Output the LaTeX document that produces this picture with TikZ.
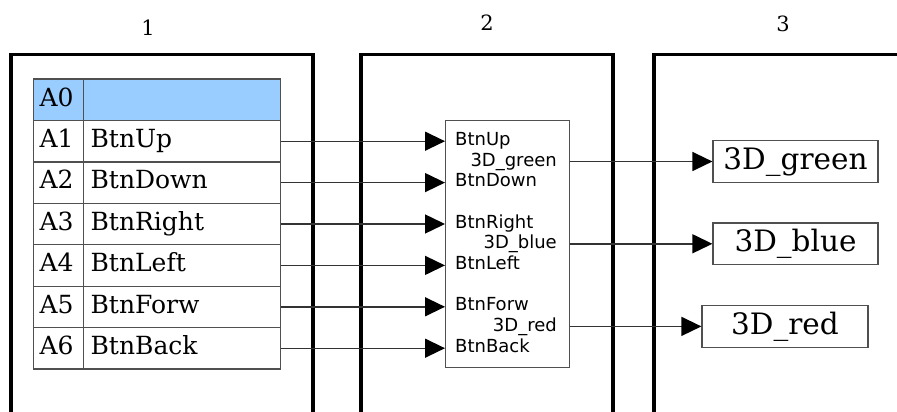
\documentclass[tikz,border=0pt]{standalone}
\usepackage{fontspec}
\setmainfont{DejaVu Serif}
\setsansfont{DejaVu Sans}
\usetikzlibrary{arrows.meta}
\definecolor{hdr}{HTML}{99CCFF}
\definecolor{edge}{HTML}{505050}
\definecolor{wire}{HTML}{333333}
\begin{document}
\begin{tikzpicture}[x=1pt,y=-1pt,
  panel/.style={line width=3.5pt,black,line join=miter},
  cellA/.style={draw=edge,line width=1.2pt,anchor=north west,minimum width=50pt,minimum height=41.4pt,
    inner xsep=6pt,inner ysep=0pt,text width=38pt,align=left,text height=18pt,text depth=5.5pt,
    font=\fontsize{25}{27}\selectfont},
  cellB/.style={cellA,minimum width=197pt,inner xsep=7pt,text width=183pt},
  sflab/.style={inner sep=3pt,text height=13pt,text depth=3.5pt,font=\sffamily\fontsize{18}{20}\selectfont},
  rbox/.style={draw=edge,line width=1.2pt,minimum height=41.5pt,inner sep=0pt,
    text height=21.5pt,text depth=6pt,font=\fontsize{29.5}{32}\selectfont},
  conn/.style={wire,line width=1.4pt,-{Triangle[length=20pt,width=19pt,color=black]}},
  toplab/.style={font=\fontsize{21}{23}\selectfont}]
\useasboundingbox (0,0) rectangle (897,412);
\fill[white] (0,0) rectangle (897,412);
% panel titles
\node[toplab] (t1) at (148,28) {1};
\node[toplab] (t2) at (487,23) {2};
\node[toplab] (t3) at (783,24) {3};
% panels
\draw[panel] (11,412) -- (11,54.5) -- (313,54.5) -- (313,412);
\draw[panel] (361,412) -- (361,54.5) -- (613,54.5) -- (613,412);
\draw[panel] (654,412) -- (654,54.5) -- (897,54.5);
% table
\node[cellA,fill=hdr] (a0) at (33,78.5) {A0};
\node[cellB,fill=hdr] (b0) at (83,78.5) {};
\foreach \nm [count=\i from 1] in {BtnUp,BtnDown,BtnRight,BtnLeft,BtnForw,BtnBack} {
  \node[cellA] (a\i) at (33,{78.5+41.4*\i}) {A\i};
  \node[cellB] (b\i) at (83,{78.5+41.4*\i}) {\nm};
}
% block 2
\node[draw=edge,line width=1.2pt,anchor=north west,minimum width=124pt,minimum height=247pt,inner sep=0pt] (blk) at (445,120) {};
\foreach \nm [count=\i from 1] in {BtnUp,BtnDown,BtnRight,BtnLeft,BtnForw,BtnBack} {
  \node[sflab,anchor=west] (in\i) at (452,{99.2+41.4*\i}) {\nm};
  \draw[conn] (b\i.east) -- (b\i.east -| blk.west);
}
\node[sflab,anchor=east] (o1) at (560,161.5) {3D\_green};
\node[sflab,anchor=east] (o2) at (560,243.8) {3D\_blue};
\node[sflab,anchor=east] (o3) at (560,326.4) {3D\_red};
% right boxes
\node[rbox,minimum width=165pt] (g) at (795.5,161.5) {3D\_green};
\node[rbox,minimum width=165pt] (bl) at (795.5,243.8) {3D\_blue};
\node[rbox,minimum width=166pt] (r) at (785,326.4) {3D\_red};
\draw[conn] (blk.east |- g.west) -- (g.west);
\draw[conn] (blk.east |- bl.west) -- (bl.west);
\draw[conn] (blk.east |- r.west) -- (r.west);
\end{tikzpicture}
\end{document}
